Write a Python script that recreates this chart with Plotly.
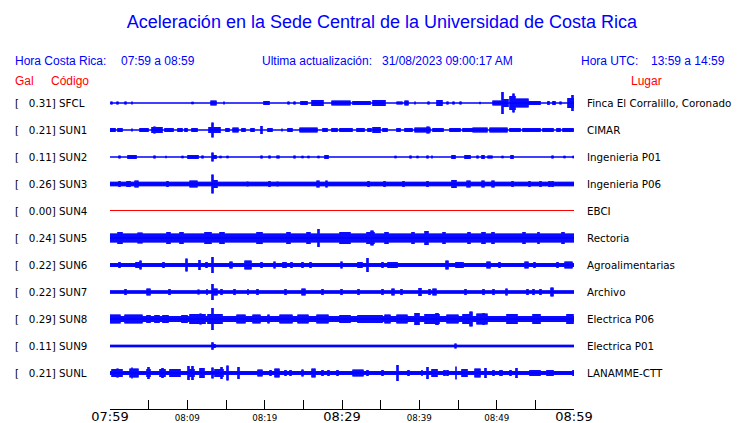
import plotly.graph_objects as go

# ---------------- data ----------------
codes = ["SFCL", "SUN1", "SUN2", "SUN3", "SUN4", "SUN5", "SUN6", "SUN7", "SUN8", "SUN9", "SUNL"]
gal = [0.31, 0.21, 0.11, 0.26, 0.00, 0.24, 0.22, 0.22, 0.29, 0.11, 0.21]
places = ["Finca El Corralillo, Coronado", "CIMAR", "Ingenieria P01", "Ingenieria P06", "EBCI",
          "Rectoria", "Agroalimentarias", "Archivo", "Electrica P06", "Electrica P01", "LANAMME-CTT"]

# background (noise) half-amplitude of each trace, relative units
background = [0.5, 0.6, 0.5, 2.2, 0.0, 4.5, 2.0, 1.8, 3.0, 1.3, 2.0]

# events: (minute after 07:59, half-amplitude, duration in minutes)
ev_SFCL = [(0.1, 1.5, 0.1), (0.9, 1.5, 0.1), (2.0, 1.5, 0.1), (2.8, 1.5, 0.1), (10.6, 1.2, 0.1),
           (13.1, 2.5, 0.6), (14.7, 1.5, 0.1), (19.9, 2.0, 0.6), (23.0, 1.5, 0.1), (23.8, 1.5, 0.1),
           (24.7, 2.0, 0.8), (26.1, 3.0, 1.4), (28.7, 2.5, 1.4), (29.7, 2.5, 1.3), (31.4, 2.0, 2.2),
           (34.0, 3.0, 1.5), (37.1, 1.5, 0.6), (38.1, 2.5, 0.4), (39.4, 1.5, 0.1), (41.1, 1.5, 0.1),
           (42.3, 3.0, 0.6), (43.6, 1.5, 0.1), (44.4, 1.5, 0.1), (45.3, 1.5, 0.1), (47.8, 1.2, 0.1),
           (49.5, 2.5, 1.1), (50.7, 11.0, 0.15), (50.8, 4.0, 0.7), (51.7, 7.0, 0.7), (52.1, 9.5, 0.15),
           (52.4, 4.5, 1.7), (54.1, 2.0, 1.5), (56.6, 2.0, 0.2), (57.3, 2.0, 0.2), (58.2, 1.5, 0.1),
           (59.2, 5.0, 0.8), (59.7, 8.0, 0.15)]
ev_SUN1 = [(0.0, 2.0, 0.6), (1.0, 2.0, 0.6), (2.8, 1.5, 0.1), (3.9, 2.0, 0.2), (4.3, 2.0, 0.6),
           (5.4, 3.0, 1.3), (5.7, 3.5, 0.15), (7.1, 2.0, 1.0), (8.8, 2.0, 0.5), (9.7, 2.0, 0.3),
           (10.6, 2.0, 0.6), (12.8, 3.0, 1.4), (13.2, 7.5, 0.15), (15.0, 2.0, 0.4), (15.9, 2.5, 0.6),
           (17.1, 2.0, 0.4), (18.2, 2.0, 0.4), (19.5, 4.0, 0.15), (20.4, 2.0, 0.5), (22.2, 1.5, 0.1),
           (23.0, 2.0, 0.5), (24.6, 2.5, 2.2), (27.5, 2.0, 0.5), (28.7, 2.0, 0.6), (29.7, 2.0, 0.9),
           (30.8, 2.0, 0.5), (31.9, 2.0, 1.0), (33.4, 2.0, 0.3), (34.0, 3.0, 0.9), (35.3, 2.0, 0.5),
           (37.1, 2.0, 0.4), (38.1, 2.0, 0.9), (39.4, 2.5, 2.0), (41.0, 3.5, 0.3), (41.8, 2.0, 1.2),
           (44.0, 2.0, 1.3), (45.6, 2.0, 1.2), (46.9, 2.5, 1.8), (49.1, 2.5, 2.2), (51.7, 2.0, 1.3),
           (53.4, 2.0, 2.2), (56.0, 2.0, 1.3), (57.8, 2.0, 0.4), (58.6, 2.0, 1.3)]
ev_SUN2 = [(1.2, 1.5, 0.1), (2.3, 2.0, 1.1), (5.7, 1.5, 0.1), (7.2, 1.2, 0.1), (9.3, 1.2, 0.1),
           (10.1, 2.0, 1.3), (11.9, 1.5, 0.1), (13.2, 4.5, 0.15), (13.3, 2.0, 0.4), (14.2, 1.2, 0.1),
           (15.1, 1.2, 0.1), (19.5, 1.5, 0.1), (20.6, 1.5, 0.1), (21.6, 1.5, 0.2), (23.8, 1.5, 0.1),
           (24.8, 1.2, 0.1), (25.6, 1.2, 0.1), (26.9, 1.2, 0.1), (27.8, 2.0, 0.4), (36.9, 1.2, 0.1),
           (38.8, 1.5, 0.1), (39.7, 1.2, 0.1), (41.0, 1.5, 0.1), (41.6, 1.5, 0.1), (44.2, 2.0, 0.4),
           (45.9, 2.0, 0.6), (47.5, 1.5, 0.1), (48.1, 2.0, 0.2), (48.9, 1.5, 0.5), (50.7, 1.2, 0.1),
           (51.9, 2.0, 0.2), (57.2, 1.5, 0.1), (58.7, 1.2, 0.1), (59.9, 1.2, 0.1)]
ev_SUN3 = [(1.2, 3.0, 0.1), (2.2, 3.0, 0.4), (3.2, 3.5, 0.4), (7.4, 3.0, 0.1), (10.4, 3.5, 0.9),
           (13.2, 9.5, 0.15), (13.3, 4.0, 0.5), (17.7, 2.5, 0.1), (20.6, 3.0, 0.1), (21.6, 2.5, 0.1),
           (26.8, 3.5, 0.2), (27.9, 3.5, 0.2), (33.4, 3.0, 0.1), (35.4, 3.0, 0.1), (37.9, 3.0, 0.1),
           (41.0, 3.0, 0.1), (44.2, 4.0, 0.5), (46.2, 3.5, 0.4), (48.1, 3.5, 0.3), (49.4, 3.5, 0.2),
           (52.0, 3.0, 0.1), (54.2, 3.0, 0.1), (55.6, 3.0, 0.1), (56.8, 3.0, 0.1), (57.2, 3.0, 0.1)]
ev_SUN4 = []
ev_SUN5 = [(1.0, 6.0, 0.6), (3.6, 5.5, 0.5), (7.4, 6.0, 0.4), (9.1, 6.0, 0.4), (12.3, 6.0, 0.7),
           (14.2, 6.0, 0.6), (19.0, 6.0, 0.6), (22.9, 6.0, 0.4), (25.5, 6.0, 0.4), (26.9, 9.0, 0.15),
           (29.7, 6.0, 1.3), (33.2, 6.0, 1.0), (33.8, 7.5, 0.15), (35.6, 6.0, 0.3), (39.0, 6.0, 0.3),
           (40.7, 7.0, 0.4), (43.1, 6.0, 0.2), (46.3, 6.0, 0.2), (48.1, 6.0, 0.4), (49.4, 6.0, 0.2),
           (53.4, 6.0, 0.2), (55.3, 6.0, 0.2), (58.5, 6.0, 0.2)]
ev_SUN6 = [(1.1, 3.0, 0.15), (3.3, 3.0, 0.5), (3.9, 4.5, 0.1), (6.9, 3.0, 0.1), (9.8, 6.5, 0.15),
           (11.5, 5.0, 0.15), (12.4, 3.0, 0.1), (13.2, 8.0, 0.15), (15.5, 3.5, 0.3), (17.5, 4.5, 0.7),
           (19.5, 3.0, 0.1), (21.2, 3.5, 0.1), (22.4, 3.0, 0.3), (23.4, 3.0, 0.1), (24.8, 3.0, 0.1),
           (25.9, 3.0, 0.1), (29.9, 3.5, 0.1), (32.1, 3.0, 0.5), (33.2, 7.0, 0.15), (35.2, 3.0, 0.1),
           (36.0, 3.0, 1.1), (43.5, 4.5, 0.15), (44.7, 3.0, 0.9), (48.8, 3.5, 0.3), (50.3, 3.0, 0.1),
           (53.7, 3.5, 0.3), (54.8, 3.0, 0.1), (57.8, 3.0, 0.1), (58.8, 3.5, 1.0)]
ev_SUN7 = [(2.0, 3.0, 0.1), (4.8, 3.5, 0.4), (7.6, 3.0, 0.1), (11.4, 2.5, 0.1), (12.5, 3.0, 0.1),
           (13.2, 8.0, 0.15), (13.3, 3.5, 0.5), (14.4, 3.0, 0.1), (16.0, 3.0, 0.1), (17.8, 3.0, 0.1),
           (19.0, 3.0, 0.1), (22.6, 3.0, 0.1), (24.8, 3.5, 0.4), (27.4, 3.0, 0.1), (29.9, 3.0, 0.1),
           (32.1, 3.0, 0.1), (35.2, 3.0, 0.1), (36.5, 3.5, 0.2), (37.6, 3.0, 0.1), (40.0, 4.0, 0.2),
           (41.3, 3.0, 0.1), (41.8, 3.5, 0.4), (45.9, 3.0, 0.1), (48.2, 3.0, 0.1), (49.5, 3.0, 0.1),
           (51.2, 3.5, 0.2), (53.9, 3.0, 0.2), (54.7, 3.0, 0.1), (55.6, 3.0, 0.1), (57.0, 4.5, 0.3)]
ev_SUN8 = [(0.0, 4.5, 1.3), (2.0, 4.5, 2.2), (4.8, 4.0, 0.4), (5.8, 4.0, 0.6), (6.9, 4.0, 0.6),
           (9.3, 4.0, 0.6), (10.3, 5.0, 2.0), (11.7, 5.5, 0.1), (12.7, 5.0, 1.8), (13.2, 11.0, 0.15),
           (16.4, 4.5, 1.0), (18.5, 4.5, 0.9), (20.4, 4.5, 0.2), (22.0, 4.5, 1.5), (24.3, 4.5, 1.3),
           (26.8, 4.5, 1.4), (29.7, 4.0, 1.3), (32.1, 4.0, 3.1), (35.6, 4.5, 0.6), (37.1, 4.5, 1.3),
           (39.4, 6.0, 0.6), (40.7, 5.0, 1.9), (42.2, 6.0, 0.15), (43.6, 4.5, 1.4), (45.6, 5.0, 1.2),
           (46.6, 7.5, 0.15), (47.5, 5.5, 1.3), (48.2, 6.0, 0.15), (51.3, 5.0, 1.3), (54.7, 5.0, 0.9),
           (59.1, 5.0, 0.8)]
ev_SUN9 = [(13.2, 3.7, 0.15), (13.3, 2.0, 0.3), (44.6, 2.5, 0.2)]
ev_SUNL = [(0.2, 4.0, 1.3), (0.9, 4.5, 0.1), (2.6, 4.5, 1.0), (2.8, 5.5, 0.1), (4.8, 4.0, 0.4),
           (4.9, 6.0, 0.1), (6.5, 4.0, 0.6), (6.7, 5.0, 0.1), (7.8, 4.0, 1.3), (10.1, 7.0, 0.1),
           (10.3, 4.0, 0.6), (10.6, 7.0, 0.1), (11.6, 5.0, 0.6), (13.2, 5.5, 0.1), (13.6, 4.0, 1.0),
           (14.4, 6.0, 0.1), (15.1, 7.5, 0.1), (16.6, 6.0, 0.1), (19.2, 3.5, 0.5), (20.7, 3.0, 0.1),
           (21.4, 4.5, 0.4), (22.6, 3.0, 0.1), (23.3, 3.0, 0.1), (24.8, 3.5, 0.1), (26.1, 4.5, 0.4),
           (27.4, 3.0, 0.1), (28.2, 3.0, 0.1), (29.4, 3.0, 0.1), (31.4, 3.5, 1.3), (33.2, 3.0, 0.1),
           (35.2, 3.0, 0.1), (37.1, 8.0, 0.1), (38.5, 3.0, 0.1), (40.3, 3.0, 0.1), (41.0, 6.0, 0.1),
           (41.6, 4.0, 0.7), (43.2, 3.0, 0.1), (43.6, 3.0, 0.1), (44.7, 6.5, 0.1), (45.5, 4.0, 0.7),
           (47.2, 4.5, 0.7), (48.5, 5.0, 0.1), (49.5, 3.0, 0.1), (50.4, 3.0, 0.3), (51.7, 3.0, 0.1),
           (52.5, 5.0, 0.1), (54.3, 3.0, 1.3), (56.5, 3.0, 0.8), (59.9, 3.0, 0.1)]
events = [ev_SFCL, ev_SUN1, ev_SUN2, ev_SUN3, ev_SUN4, ev_SUN5, ev_SUN6, ev_SUN7, ev_SUN8, ev_SUN9, ev_SUNL]

# x-axis ticks (minutes after 07:59)
major_ticks = [0, 30, 60]
major_labels = ["07:59", "08:29", "08:59"]
minor_ticks = [10, 20, 40, 50]
minor_labels = ["08:09", "08:19", "08:39", "08:49"]
all_ticks = list(range(0, 61, 5))

title_text = "Aceleración en la Sede Central de la Universidad de Costa Rica"
hdr_cr = ("Hora Costa Rica:", "07:59 a 08:59")
hdr_upd = ("Ultima actualización:", "31/08/2023 09:00:17 AM")
hdr_utc = ("Hora UTC:", "13:59 a 14:59")

# ---------------- layout constants ----------------
W, H = 740, 423
L, R, T, B = 110, 574, 88, 409
ROW = 27
BLUE = "#0000FF"
RED = "#FF0000"
DUR = 60.0
NS = 465  # one sample column per pixel
LW = 1.6


def px_x(p):
    return (p - L) / (R - L)


def px_y(p):
    return (B - p) / (B - T)


fig = go.Figure()

dt = DUR / (NS - 1)
for i, code in enumerate(codes):
    c = -ROW * i
    if not events[i] and background[i] == 0:
        fig.add_trace(go.Scatter(x=[0, DUR], y=[c + 0.5, c + 0.5], mode="lines",
                                 line=dict(color=RED, width=1), hoverinfo="skip",
                                 showlegend=False))
        continue
    # continuous centre line of the trace
    fig.add_trace(go.Scatter(x=[0, DUR], y=[c, c], mode="lines",
                             line=dict(color=BLUE, width=1.3), hoverinfo="skip",
                             showlegend=False))
    xs, ys = [], []
    for k in range(NS):
        t0 = k * dt - dt / 2
        t1 = t0 + dt
        env = background[i]
        for (te, a, d) in events[i]:
            if te < t1 and te + max(d, 0.05) > t0:
                env = max(env, a)
        if env <= 0.7:
            continue
        tm = min(max(k * dt, 0), DUR)
        xs += [tm, tm, None]
        ys += [c - env, c + env, None]
    if xs:
        fig.add_trace(go.Scatter(x=xs, y=ys, mode="lines", line=dict(color=BLUE, width=LW),
                                 hoverinfo="skip", showlegend=False, connectgaps=False))

# invisible trace on the secondary axis that carries the minor time labels
fig.add_trace(go.Scatter(x=[0, DUR], y=[0, 0], xaxis="x2", mode="lines",
                         line=dict(width=0), hoverinfo="skip", showlegend=False, opacity=0))

ann = []
font_lbl = dict(family="DejaVu Sans", size=10.3, color="black")
for i in range(len(codes)):
    c = -ROW * i
    ann.append(dict(xref="paper", yref="y", x=px_x(13), y=c, xanchor="left", yanchor="middle",
                    showarrow=False, font=font_lbl,
                    text="[\u00a0\u00a0\u00a0%.2f]\u00a0%s" % (gal[i], codes[i])))
    ann.append(dict(xref="paper", yref="y", x=px_x(585), y=c, xanchor="left", yanchor="middle",
                    showarrow=False, font=font_lbl, text=places[i]))

font_hdr = dict(family="Liberation Sans", size=12, color=BLUE)
font_red = dict(family="Liberation Sans", size=12, color=RED)
for (px, txt) in [(13, hdr_cr[0]), (119, hdr_cr[1]), (260, hdr_upd[0]), (380, hdr_upd[1]),
                  (579, hdr_utc[0]), (649, hdr_utc[1])]:
    ann.append(dict(xref="paper", yref="paper", x=px_x(px), y=px_y(61), xanchor="left",
                    yanchor="middle", showarrow=False, font=font_hdr, text=txt))
for (px, txt) in [(13, "Gal"), (49, "Código"), (629, "Lugar")]:
    ann.append(dict(xref="paper", yref="paper", x=px_x(px), y=px_y(81), xanchor="left",
                    yanchor="middle", showarrow=False, font=font_red, text=txt))

major_text = [major_labels[major_ticks.index(t)] if t in major_ticks else "" for t in all_ticks]

fig.update_layout(
    width=W, height=H,
    autosize=False,
    margin=dict(l=L, r=W - R, t=T, b=H - B, pad=0, autoexpand=False),
    paper_bgcolor="white", plot_bgcolor="white",
    title=dict(text=title_text, x=382 / W, xref="container", xanchor="center",
               y=1 - 22 / H, yref="container", yanchor="middle",
               font=dict(family="Liberation Sans", size=18, color=BLUE)),
    xaxis=dict(range=[0, DUR], showgrid=False, zeroline=False, showline=True, automargin=False,
               linecolor="black", linewidth=1, ticks="inside", ticklen=9, tickwidth=1,
               tickcolor="black", tickmode="array", tickvals=all_ticks, ticktext=major_text,
               ticklabelstandoff=-5,
               tickfont=dict(family="DejaVu Sans", size=13, color="black")),
    xaxis2=dict(range=[0, DUR], overlaying="x", side="bottom", anchor="y", showgrid=False,
                zeroline=False, showline=False, ticks="", tickmode="array", automargin=False,
                tickvals=minor_ticks, ticktext=minor_labels, ticklabelstandoff=2,
                tickfont=dict(family="DejaVu Sans", size=8.7, color="black")),
    yaxis=dict(range=[-306, 15], visible=False, showgrid=False, zeroline=False),
    annotations=ann,
    showlegend=False,
)

fig.write_html("out.html",
               config={"displayModeBar": False, "staticPlot": True},
               post_script="document.body.style.margin='0';document.body.style.padding='0';"
                           "document.body.style.overflow='hidden';")
